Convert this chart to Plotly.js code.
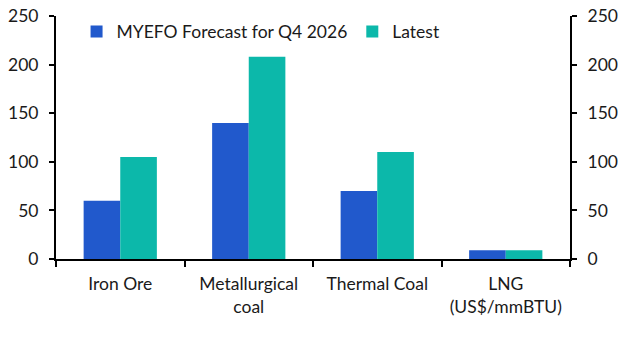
<!DOCTYPE html>
<html>
<head>
<script src="https://cdn.plot.ly/plotly-3.0.1.min.js"></script>
<style>html,body{margin:0;padding:0;background:#fff}#chart{width:633px;height:344px}</style>
</head>
<body>
<div id="chart"></div>
<script>
var categories = ["Iron Ore", "Metallurgical<br>coal", "Thermal Coal", "LNG<br>(US$/mmBTU)"];
var seriesNames = ["MYEFO Forecast for Q4 2026", "Latest"];
var myefo = [60, 140, 70, 9];
var latest = [105, 208, 110, 9];
var yTicks = [0, 50, 100, 150, 200, 250];

var fontFam = "Lato, 'Noto Sans', sans-serif";
var fs = 17.5;
var traces = [
  {type: "bar", name: seriesNames[0], x: categories, y: myefo, marker: {color: "#2159CC"}, hoverinfo: "skip"},
  {type: "bar", name: seriesNames[1], x: categories, y: latest, marker: {color: "#0CB8AA"}, hoverinfo: "skip"},
  {type: "scatter", mode: "markers", x: categories, y: latest, yaxis: "y2", marker: {opacity: 0}, showlegend: false, hoverinfo: "skip"}
];
var axisCommon = {
  range: [0, 250], tickvals: yTicks, ticks: "outside", ticklen: 5, tickwidth: 2, tickcolor: "#000",
  showline: true, linecolor: "#000", linewidth: 2, showgrid: false, zeroline: false,
  ticklabelstandoff: 7,
  tickfont: {family: fontFam, size: fs, color: "#1a1a1a"}, fixedrange: true
};
var layout = {
  width: 633, height: 344,
  margin: {l: 56, r: 63, t: 16, b: 85},
  paper_bgcolor: "#fff", plot_bgcolor: "#fff",
  barmode: "group", bargap: 0.43, bargroupgap: 0,
  font: {family: fontFam, size: fs, color: "#1a1a1a"},
  xaxis: {type: "category", tickson: "boundaries", ticks: "outside", ticklen: 6, tickwidth: 2, tickcolor: "#000",
    showline: true, linecolor: "#000", linewidth: 2, showgrid: false, ticklabelstandoff: 8,
    tickfont: {family: fontFam, size: fs, color: "#1a1a1a"}, fixedrange: true},
  yaxis: Object.assign({}, axisCommon, {side: "left"}),
  yaxis2: Object.assign({}, axisCommon, {side: "right", overlaying: "y"}),
  legend: {orientation: "h", x: 0.04, y: 1.01, xanchor: "left", yanchor: "top",
    font: {family: fontFam, size: fs, color: "#1a1a1a"}, bgcolor: "rgba(0,0,0,0)", itemwidth: 30, tracegroupgap: 0},
  showlegend: true
};
Plotly.newPlot("chart", traces, layout, {displayModeBar: false, staticPlot: true});
</script>
</body>
</html>
